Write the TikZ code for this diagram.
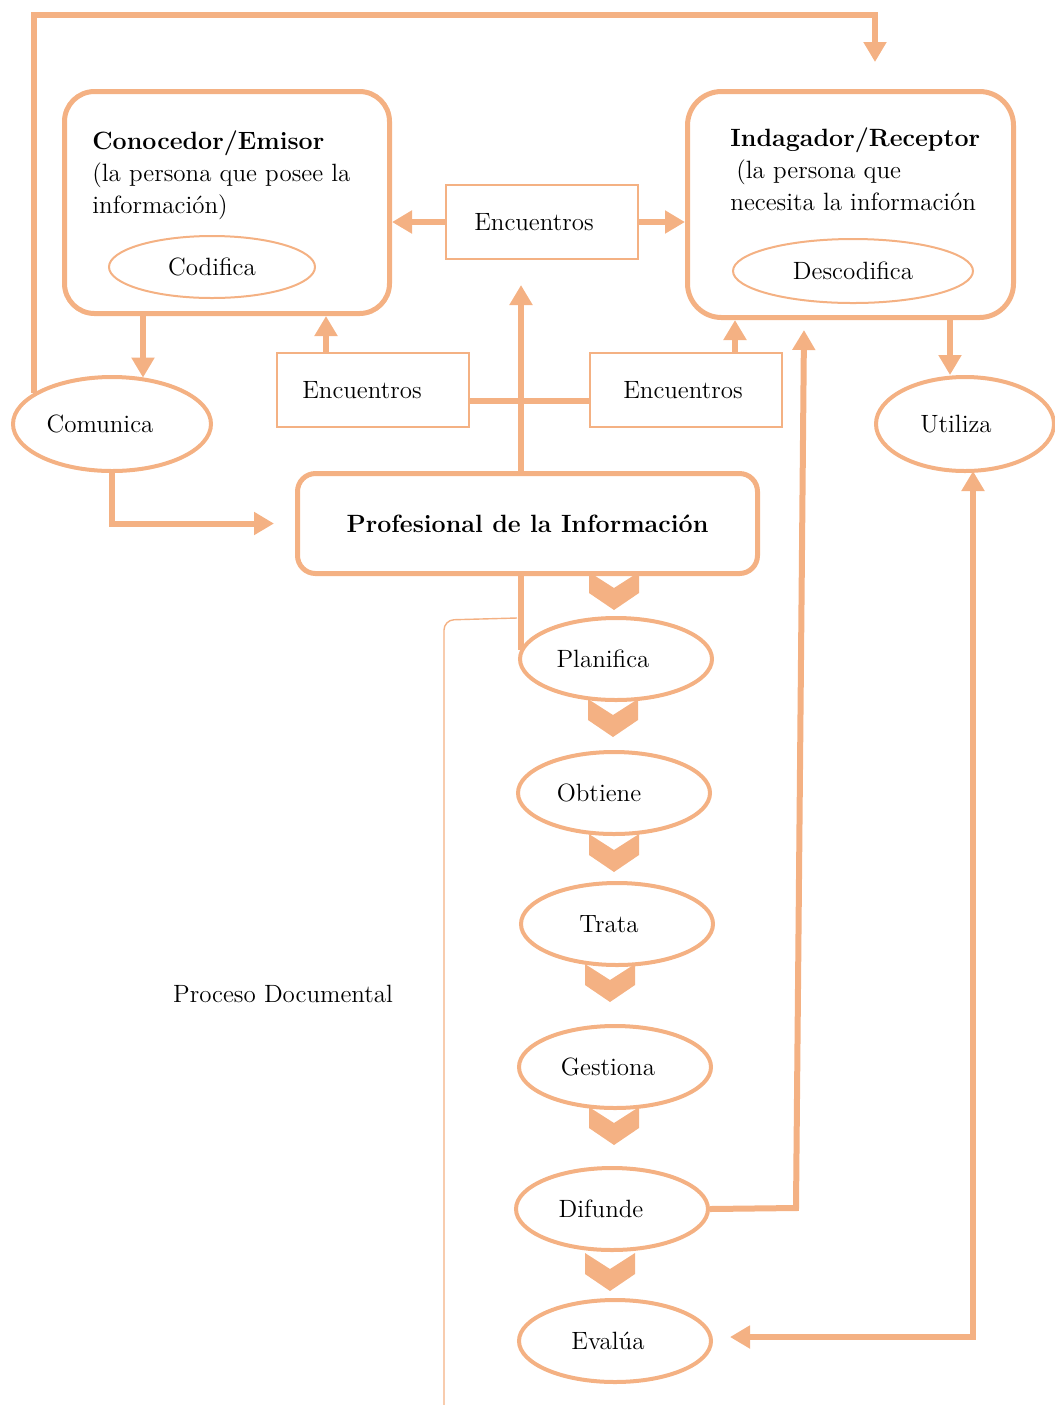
\documentclass[tikz,border=0pt]{standalone}
\usetikzlibrary{arrows.meta,shapes.geometric,calc}
\definecolor{peach}{HTML}{F4B183}

\begin{document}
\begin{tikzpicture}[x=0.5pt,y=-0.5pt,
  font=\fontsize{12.5}{16}\selectfont,
  bigbox/.style={draw=peach,line width=2.5pt,inner sep=0pt},
  meetbox/.style={draw=peach,line width=0.9pt,minimum width=96pt,minimum height=37pt,inner sep=0pt},
  inner/.style={ellipse,draw=peach,line width=1pt,inner sep=0pt},
  stage/.style={ellipse,draw=peach,line width=2pt,minimum width=96pt,minimum height=41pt,inner sep=0pt},
  flow/.style={draw=peach,line width=3pt,-{Triangle[width=11pt,length=10pt]}},
  twoway/.style={draw=peach,line width=3pt,{Triangle[width=11pt,length=10pt]}-{Triangle[width=11pt,length=10pt]}},
  link/.style={draw=peach,line width=3pt},
  chevron/.pic={\fill[peach] (-12.5pt,9.5pt) -- ++(12.5pt,-8pt) -- ++(12.5pt,8pt)
     -- ++(0,-10.5pt) -- ++(-12.5pt,-8.5pt) -- ++(-12.5pt,8.5pt) -- cycle;},
  line join=miter
]
\useasboundingbox (0,0) rectangle (1055,1405);

% the two parties
\node[bigbox,rounded corners=15pt,minimum width=162.5pt,minimum height=111pt] (emisor) at (227,202.5) {};
\node[anchor=north west,inner sep=0pt,align=left] (emisortxt) at (92,130)
  {\textbf{Conocedor/Emisor}\\(la persona que posee la\\informaci\'{o}n)};
\node[inner,minimum width=103pt,minimum height=31pt] (codifica) at (212,267) {Codifica};

\node[bigbox,rounded corners=17pt,minimum width=163pt,minimum height=113pt] (receptor) at (850.5,204.5) {};
\node[anchor=north west,inner sep=0pt,align=left] (receptortxt) at (730,127)
  {\textbf{Indagador/Receptor}\\\hspace*{3pt}(la persona que\\necesita la informaci\'{o}n};
\node[inner,minimum width=120pt,minimum height=32pt] (descodifica) at (853,271) {Descodifica};

% meetings
\node[meetbox] (enc1) at (542,222) {Encuentros\hspace*{8pt}};
\node[meetbox] (enc2) at (373,390) {Encuentros\hspace*{11pt}};
\node[meetbox] (enc3) at (686,390) {Encuentros\hspace*{3pt}};

% side actions
\node[ellipse,draw=peach,line width=2pt,minimum width=99pt,minimum height=47pt,inner sep=0pt] (comunica) at (112,424) {Comunica\hspace*{12pt}};
\node[ellipse,draw=peach,line width=2pt,minimum width=89pt,minimum height=47pt,inner sep=0pt] (utiliza) at (965,424) {Utiliza\hspace*{9pt}};

% information professional
\node[bigbox,rounded corners=9pt,minimum width=230pt,minimum height=50pt,font=\fontsize{12.5}{16}\selectfont\bfseries] (prof) at (527.5,523.5) {Profesional de la Informaci\'{o}n};

% documentary process stages
\node[stage] (planifica) at (616,659) {Planifica\hspace*{13pt}};
\node[stage] (obtiene) at (614,793) {Obtiene\hspace*{15pt}};
\node[stage] (trata) at (617,924) {Trata\hspace*{8pt}};
\node[stage] (gestiona) at (615,1067) {Gestiona\hspace*{7pt}};
\node[stage] (difunde) at (612,1209) {Difunde\hspace*{11pt}};
\node[stage] (evalua) at (615,1341) {Eval\'{u}a\hspace*{7pt}};

\node (proceso) at (283,994) {Proceso Documental};

% bracket of the documentary process
\draw[peach,line width=0.7pt,rounded corners=5pt] (517,618) -- (444,620) -- (444,1405);

% chevrons between the stages
\pic at (614,591) {chevron};
\pic at (613,718) {chevron};
\pic at (614,853) {chevron};
\pic at (610,983) {chevron};
\pic at (614,1126) {chevron};
\pic at (610,1272) {chevron};

% helper points
\coordinate (topcorner) at (875,15);
\coordinate (toptip) at (875,62);
\coordinate (e2up) at ($(enc2.north)+(-23.5pt,0)$);
\coordinate (e3up) at ($(enc3.north)+(24.5pt,0)$);
\coordinate (emdown) at ($(emisor.south)+(-42pt,0)$);
\coordinate (redown) at ($(receptor.south)+(49.75pt,0)$);
\coordinate (profup) at ($(prof.north)+(-3.25pt,0)$);
\coordinate (proftip) at (521,285);
\coordinate (profdown) at ($(prof.south)+(-3.25pt,0)$);
\coordinate (planleft) at (521,650);
\coordinate (difbend) at (796,1208);
\coordinate (diftip) at (804,330);
\coordinate (utiltip) at (973,471);
\coordinate (utilbend) at (973,1337);
\coordinate (evaltip) at (730,1337);

% connectors
\draw[flow] (comunica.158) |- (topcorner) -- (toptip);
\draw[flow] (enc1.west) -- (enc1.west -| emisor.east);
\draw[flow] (enc1.east) -- (enc1.east -| receptor.west);
\draw[flow] (emdown) -- (emdown |- comunica.55);
\draw[flow] (e2up) -- (e2up |- emisor.south);
\draw[flow] (e3up) -- (e3up |- receptor.south);
\draw[link] ($(enc2.east)+(0,-5.5pt)$) -- ($(enc3.west)+(0,-5.5pt)$);
\draw[flow] (profup) -- (proftip);
\draw[flow] (comunica.south) |- ($(prof.west)+(-10.5pt,0)$);
\draw[flow] (redown) -- (redown |- utiliza.north);
\draw[link] (profdown) -- (planleft);
\draw[flow] (difunde.east) -- (difbend) -- (diftip);
\draw[twoway] (utiltip) -- (utilbend) -- (evaltip);
\end{tikzpicture}
\end{document}
